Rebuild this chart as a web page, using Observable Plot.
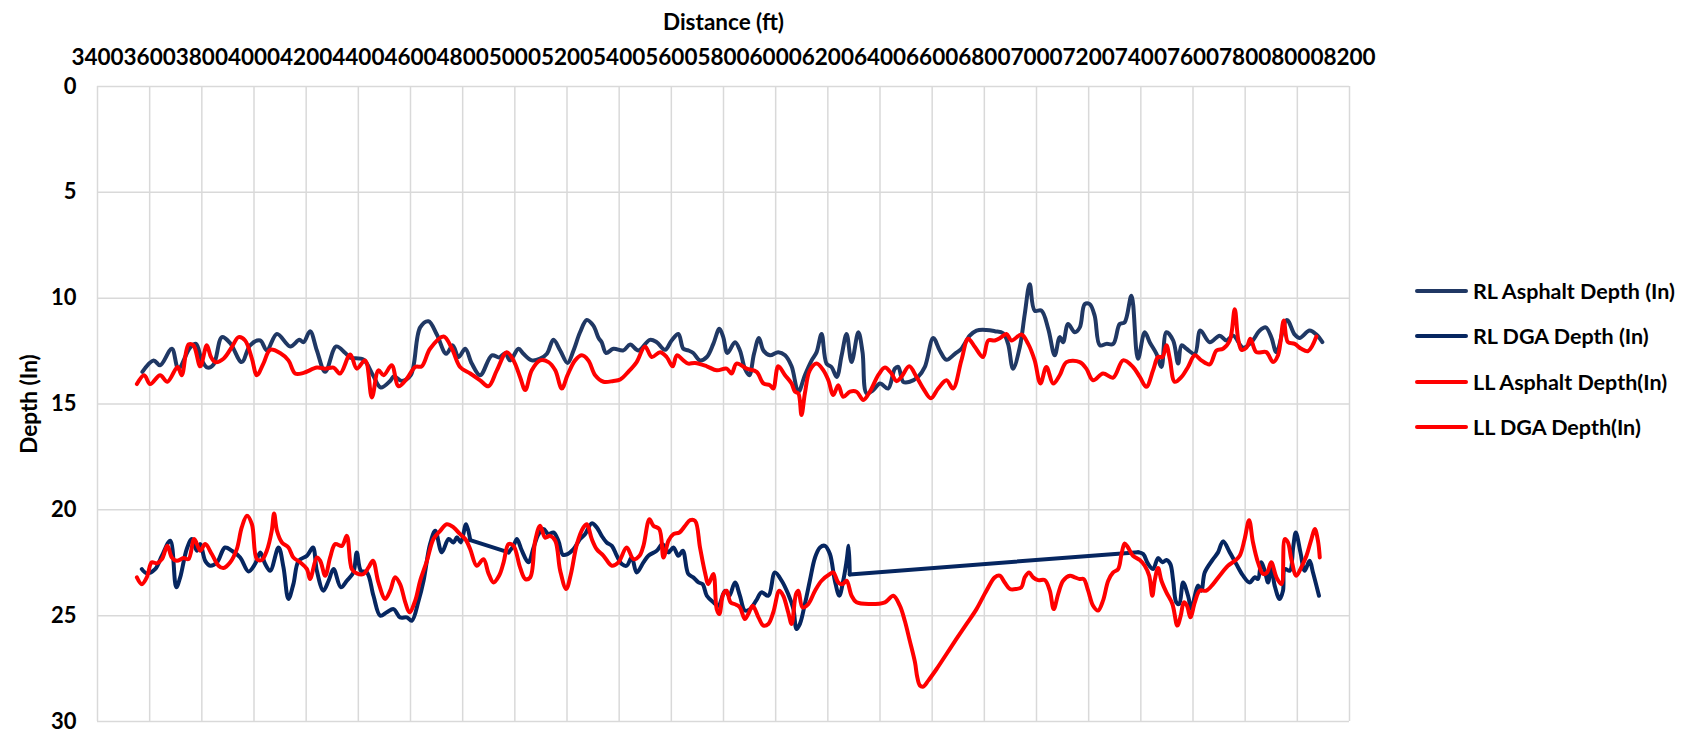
<!DOCTYPE html>
<html><head><meta charset="utf-8">
<script src="https://cdn.jsdelivr.net/npm/d3@7"></script>
<script src="https://cdn.jsdelivr.net/npm/@observablehq/plot@0.6"></script>
<style>
body{margin:0;background:#fff;}
#wrap{position:relative;width:1692px;height:735px;overflow:hidden;}
#legend{position:absolute;left:1415px;top:0;font-family:Lato,sans-serif;font-weight:700;font-size:21.5px;color:#000;}
.row{position:absolute;left:0;height:30px;display:flex;align-items:center;white-space:nowrap;}
.sw{width:53px;height:4px;margin-right:5px;border-radius:2px;}
</style></head>
<body><div id="wrap"><div id="legend"></div></div>
<script>
const seriesNames = ["RL Asphalt Depth (In)", "RL DGA Depth (In)", "LL Asphalt Depth(In)", "LL DGA Depth(In)"];
const seriesColors = ["#203864", "#062660", "#ff0000", "#ff0000"];
const xTicks = [3400,3600,3800,4000,4200,4400,4600,4800,5000,5200,5400,5600,5800,6000,6200,6400,6600,6800,7000,7200,7400,7600,7800,8000,8200];
const yTicks = [0,5,10,15,20,25,30];

const rlAsphaltDist = [3572,3615,3640,3685,3710,3755,3778,3800,3822,3845,3877,3909,3953,3985,4024,4049,4088,4139,4174,4190,4215,4241,4273,4315,4350,4369,4420,4456,4486,4522,4537,4567,4601,4637,4669,4701,4737,4762,4784,4810,4835,4867,4912,4940,4963,4982,5014,5033,5065,5097,5123,5148,5174,5202,5225,5250,5276,5301,5321,5333,5350,5378,5416,5442,5474,5518,5544,5576,5601,5627,5646,5665,5684,5710,5736,5761,5784,5799,5815,5844,5863,5882,5899,5917,5936,5953,5978,6010,6036,6061,6087,6112,6138,6157,6176,6195,6214,6234,6253,6272,6291,6317,6333,6349,6374,6400,6431,6457,6470,6489,6514,6546,6572,6604,6629,6655,6687,6712,6744,6770,6808,6840,6872,6891,6910,6936,6955,6974,6993,7019,7045,7070,7089,7102,7121,7147,7166,7185,7204,7223,7243,7268,7294,7319,7338,7364,7389,7415,7434,7460,7479,7498,7524,7543,7556,7575,7607,7628,7664,7702,7728,7754,7792,7824,7856,7879,7900,7920,7960,7990,8009,8047,8073,8096];
const rlAsphaltDepth = [13.48,12.94,13.17,12.39,13.33,12.34,12.16,12.94,13.28,13.13,11.84,12.13,13.02,12.23,12.0,12.47,11.69,12.28,11.97,12.08,11.56,12.47,13.48,12.28,12.59,12.81,12.91,13.64,14.22,13.91,13.69,13.91,13.64,11.38,11.09,11.72,12.63,12.23,12.78,12.39,13.09,13.64,12.7,12.8,12.6,12.94,12.39,12.63,12.94,12.86,12.63,11.97,12.47,13.06,12.47,11.61,11.03,11.3,11.88,12.08,12.59,12.39,12.47,12.19,12.47,11.97,12.08,12.44,12.0,11.69,12.39,12.47,12.59,12.94,12.78,12.16,11.45,11.84,12.59,12.08,12.47,13.33,13.64,12.63,11.88,12.47,12.7,12.55,12.7,13.22,14.42,13.64,12.94,12.55,11.69,13.09,13.25,13.72,12.7,11.69,13.02,11.61,12.55,14.5,14.34,14.03,14.27,13.33,13.25,13.95,13.95,13.72,13.25,11.88,12.47,12.91,12.63,12.39,11.77,11.53,11.5,11.56,11.66,12.16,13.33,12.31,10.75,9.34,10.59,10.59,11.45,12.7,11.84,12.08,11.22,11.61,11.38,10.28,10.28,10.83,12.23,12.16,12.16,11.22,11.14,9.89,12.86,11.61,12.08,12.63,13.25,11.61,12.0,13.09,12.23,12.39,12.63,11.53,12.08,11.77,12.0,11.77,12.34,12.08,11.53,11.38,11.84,12.55,11.03,11.72,11.88,11.53,11.72,12.08];

const rlDgaDist = [3570,3589,3621,3647,3679,3702,3717,3742,3762,3781,3794,3813,3832,3858,3889,3915,3947,3979,4004,4024,4043,4062,4094,4113,4132,4151,4171,4203,4226,4241,4266,4286,4305,4333,4356,4381,4394,4410,4433,4458,4484,4509,4535,4560,4586,4605,4631,4650,4675,4695,4720,4746,4765,4778,4793,4813,4829,4976,4995,5008,5027,5052,5072,5091,5110,5129,5148,5167,5184,5202,5225,5250,5269,5295,5314,5333,5352,5372,5391,5410,5429,5448,5467,5493,5512,5544,5567,5589,5608,5627,5644,5665,5684,5704,5720,5736,5761,5780,5806,5822,5844,5863,5882,5902,5925,5946,5972,5997,6023,6048,6068,6080,6093,6112,6131,6151,6170,6189,6208,6227,6244,6259,6272,6280,6284,7390,7409,7428,7447,7466,7483,7498,7513,7524,7536,7547,7562,7581,7594,7607,7619,7632,7645,7677,7696,7715,7741,7766,7792,7817,7837,7849,7862,7875,7888,7900,7913,7932,7945,7952,7971,7984,7994,8012,8028,8047,8060,8083];
const rlDgaDepth = [22.8,23.0,22.8,22.17,21.46,23.66,23.19,21.86,21.38,21.93,21.62,22.41,22.64,22.48,21.78,21.93,22.25,22.91,22.56,22.01,22.56,22.88,21.78,22.72,24.21,23.51,22.41,22.17,21.78,22.88,23.82,23.35,22.8,23.66,23.35,22.96,22.01,22.88,22.96,24.06,25.0,24.84,24.69,25.08,25.08,25.24,24.29,23.35,21.62,20.99,22.01,21.38,21.54,21.3,21.54,20.68,21.43,22.01,21.7,21.38,21.93,22.48,21.78,21.15,20.91,21.15,21.07,21.46,22.12,22.09,21.86,21.38,21.15,20.64,20.83,21.23,21.54,21.7,22.17,22.56,22.64,22.25,22.96,22.48,22.17,21.93,21.62,22.01,21.78,22.17,21.93,23.03,23.19,23.43,23.51,24.06,24.37,24.53,23.82,24.06,23.43,24.06,24.76,24.69,24.29,23.9,24.06,22.96,23.35,23.98,24.69,25.63,25.39,24.45,23.35,22.25,21.78,21.7,22.09,23.35,24.06,23.35,22.41,21.7,23.05,22.0,22.09,22.56,22.8,22.28,22.48,22.37,22.56,23.35,24.37,24.45,23.43,24.06,24.69,24.06,23.58,23.82,22.96,22.33,22.01,21.49,22.01,22.56,23.11,23.43,23.19,23.27,22.48,22.88,23.43,22.64,23.58,24.21,23.82,22.8,22.88,21.78,21.07,22.01,22.88,22.41,22.96,24.06];

const llAsphaltDist = [3551,3579,3602,3640,3668,3707,3723,3749,3768,3794,3819,3835,3851,3883,3915,3941,3966,3992,4011,4036,4062,4100,4132,4158,4190,4241,4273,4305,4330,4369,4394,4426,4452,4477,4497,4528,4554,4586,4618,4643,4675,4727,4759,4790,4829,4867,4899,4931,4969,4995,5020,5040,5065,5097,5129,5155,5180,5202,5231,5257,5282,5308,5340,5378,5404,5435,5467,5499,5525,5557,5582,5605,5621,5646,5665,5691,5736,5774,5812,5831,5850,5889,5927,5953,5978,5991,6010,6036,6061,6074,6087,6099,6112,6131,6157,6183,6202,6221,6240,6259,6285,6310,6336,6361,6395,6419,6444,6463,6482,6512,6540,6566,6595,6623,6655,6680,6712,6738,6764,6795,6815,6840,6866,6885,6904,6942,6968,6993,7015,7038,7064,7089,7115,7166,7191,7217,7255,7294,7332,7370,7396,7421,7447,7466,7483,7498,7511,7530,7556,7581,7607,7632,7664,7690,7715,7741,7760,7773,7786,7805,7820,7843,7881,7907,7926,7948,7964,7990,8015,8041,8073];
const llAsphaltDepth = [14.06,13.64,14.06,13.64,13.95,13.25,13.64,12.19,12.23,13.22,12.23,12.78,13.02,12.86,12.31,11.84,12.0,12.86,13.64,13.09,12.44,12.59,12.94,13.56,13.53,13.28,13.33,13.28,13.56,12.66,13.33,12.94,14.69,13.41,13.64,13.17,14.16,13.8,13.25,13.22,12.39,11.81,12.39,13.25,13.56,13.88,14.16,13.41,12.55,12.94,13.72,14.34,13.41,12.94,13.02,13.41,14.27,13.64,12.94,12.7,12.94,13.64,13.95,13.91,13.84,13.48,13.02,12.28,12.78,12.55,12.78,13.22,12.7,12.94,13.09,13.06,13.22,13.41,13.33,13.56,13.09,13.33,13.48,14.03,14.11,14.27,13.22,13.64,14.03,14.42,14.5,15.52,14.5,13.41,13.09,13.41,13.88,14.58,14.11,14.66,14.42,14.42,14.81,14.42,13.6,13.28,13.56,13.92,13.72,13.22,13.72,14.27,14.73,14.27,13.88,14.27,12.94,11.92,12.31,12.78,12.0,12.0,11.84,11.69,12.0,11.72,12.16,12.94,14.03,13.25,14.03,13.64,13.02,13.02,13.33,13.88,13.56,13.75,12.94,13.25,13.72,14.19,13.41,12.78,12.78,12.23,12.86,13.95,13.72,13.25,12.7,12.94,13.13,12.47,12.39,12.0,10.52,11.92,12.44,12.34,11.92,12.55,12.55,13.02,12.7,11.06,12.08,12.16,12.39,12.5,11.81];

const llDgaDist = [3551,3570,3589,3608,3627,3647,3668,3685,3704,3730,3749,3771,3794,3813,3838,3864,3883,3909,3934,3953,3973,3992,4011,4030,4049,4068,4077,4088,4107,4132,4151,4177,4203,4215,4241,4254,4273,4292,4311,4337,4356,4375,4394,4420,4439,4456,4477,4503,4522,4541,4560,4580,4596,4618,4637,4663,4688,4714,4739,4765,4790,4810,4829,4854,4880,4899,4918,4940,4957,4976,4995,5020,5040,5059,5078,5097,5116,5135,5155,5174,5197,5215,5238,5263,5276,5295,5314,5340,5372,5397,5429,5455,5478,5493,5516,5531,5554,5570,5589,5608,5631,5653,5672,5691,5710,5729,5742,5761,5774,5784,5799,5812,5827,5848,5863,5882,5895,5912,5934,5953,5972,5991,6014,6029,6048,6061,6078,6087,6103,6125,6151,6176,6208,6221,6240,6257,6272,6291,6310,6361,6419,6451,6476,6495,6514,6534,6543,6553,6566,6585,6617,6655,6693,6732,6770,6808,6840,6859,6878,6898,6923,6942,6955,6972,6987,7006,7032,7051,7066,7083,7102,7128,7147,7166,7181,7198,7217,7236,7255,7275,7294,7313,7326,7338,7351,7370,7396,7415,7432,7444,7453,7466,7479,7498,7521,7540,7553,7565,7577,7590,7607,7626,7651,7677,7702,7734,7760,7779,7798,7815,7830,7849,7869,7884,7900,7920,7939,7952,7964,7977,7996,8015,8035,8054,8067,8079,8086];
const llDgaDepth = [23.19,23.51,23.19,22.48,22.53,22.33,21.7,22.25,22.41,22.28,22.33,21.38,21.93,21.62,22.09,22.64,22.75,22.48,21.86,20.83,20.28,20.68,22.33,22.37,21.93,20.99,20.17,20.99,21.54,21.78,22.25,22.48,22.8,23.27,22.25,22.41,23.11,22.25,21.62,21.7,21.23,22.8,23.0,23.03,22.72,22.41,23.43,24.21,23.82,23.19,23.51,24.37,24.84,24.29,23.35,22.41,21.38,20.99,20.68,20.83,21.15,21.38,21.86,22.64,22.33,23.0,23.43,23.1,22.48,21.62,21.7,22.72,23.27,23.19,21.46,20.75,21.31,21.23,21.46,22.88,23.74,23.03,21.62,20.83,20.68,21.38,21.86,22.17,22.64,22.48,21.78,22.33,22.17,21.7,20.44,20.75,20.91,22.25,21.46,21.15,21.07,20.75,20.49,20.52,21.78,22.96,23.51,23.03,24.69,24.92,23.98,23.82,24.37,24.48,24.61,25.16,24.92,24.53,25.08,25.47,25.39,24.84,23.82,24.06,24.84,25.39,23.98,23.82,24.61,24.45,23.82,23.35,23.03,22.96,23.43,23.51,23.35,24.06,24.37,24.45,24.37,24.06,24.53,25.24,26.18,27.2,27.91,28.3,28.35,28.07,27.52,26.81,26.1,25.39,24.69,23.82,23.19,23.11,23.43,23.74,23.74,23.66,23.19,22.96,23.19,23.32,23.32,23.82,24.69,23.98,23.35,23.11,23.19,23.27,23.27,23.82,24.53,24.76,24.29,23.35,22.96,22.8,22.09,21.59,21.78,22.17,22.37,22.64,23.11,24.06,23.35,22.75,23.35,23.9,24.45,25.47,25.0,24.37,24.53,25.08,24.37,23.82,23.82,23.51,23.11,22.64,22.41,22.17,21.38,20.49,21.54,22.48,23.03,22.96,22.48,23.19,23.51,21.38,21.54,22.33,23.11,22.72,22.17,21.38,20.91,21.46,22.25];

// Build rows; runs of closely spaced readings are smoothed, long gaps between readings are joined straight (as in the source).
const maxGap = 100;
function build(xs, ys) {
  const rows = [], gaps = [];
  let seg = 0;
  xs.forEach((d, i) => {
    if (i > 0 && d - xs[i - 1] > maxGap) {
      gaps.push({dist: xs[i - 1], depth: ys[i - 1], g: seg}, {dist: d, depth: ys[i], g: seg});
      seg++;
    }
    rows.push({dist: d, depth: ys[i], seg});
  });
  return {rows, gaps};
}
const series = [
  build(rlAsphaltDist, rlAsphaltDepth),
  build(rlDgaDist, rlDgaDepth),
  build(llAsphaltDist, llAsphaltDepth),
  build(llDgaDist, llDgaDepth)
];

const grid = {stroke: "#d9d9d9", strokeOpacity: 1, strokeWidth: 1.5};
const lineStyle = {strokeWidth: 4, strokeLinejoin: "round", strokeLinecap: "round"};
const chart = Plot.plot({
  width: 1692, height: 735,
  marginLeft: 97, marginRight: 343, marginTop: 86, marginBottom: 14,
  style: {fontFamily: "Lato, sans-serif", background: "#fff", color: "#000", overflow: "visible"},
  x: {domain: [3400, 8200]},
  y: {domain: [0, 30], reverse: true},
  marks: [
    Plot.gridX(xTicks, grid),
    Plot.gridY(yTicks, grid),
    Plot.axisX(xTicks, {anchor: "top", tickSize: 0, tickPadding: 22, fontSize: 22.5, fontWeight: 700, tickFormat: d => String(d), label: null}),
    Plot.axisY(yTicks, {anchor: "left", tickSize: 0, tickPadding: 21, fontSize: 22, fontWeight: 700, label: null}),
    Plot.text(["Distance (ft)"], {text: d => d, frameAnchor: "top", textAnchor: "middle", dy: -72, fontSize: 22.5, fontWeight: 700}),
    Plot.text(["Depth (In)"], {text: d => d, frameAnchor: "left", textAnchor: "middle", dx: -68, rotate: -90, fontSize: 22.5, fontWeight: 700}),
    ...series.flatMap((s, i) => [
      Plot.line(s.rows, {x: "dist", y: "depth", z: "seg", stroke: seriesColors[i], curve: "catmull-rom", ...lineStyle}),
      Plot.line(s.gaps, {x: "dist", y: "depth", z: "g", stroke: seriesColors[i], curve: "linear", ...lineStyle})
    ])
  ]
});
document.getElementById("wrap").prepend(chart);

const legendCenters = [291, 336, 382, 427];
const legend = document.getElementById("legend");
seriesNames.forEach((name, i) => {
  const row = document.createElement("div");
  row.className = "row";
  row.style.top = (legendCenters[i] - 15) + "px";
  const sw = document.createElement("div");
  sw.className = "sw";
  sw.style.background = seriesColors[i];
  const t = document.createElement("span");
  t.textContent = name;
  row.append(sw, t);
  legend.append(row);
});
</script>
</body></html>
